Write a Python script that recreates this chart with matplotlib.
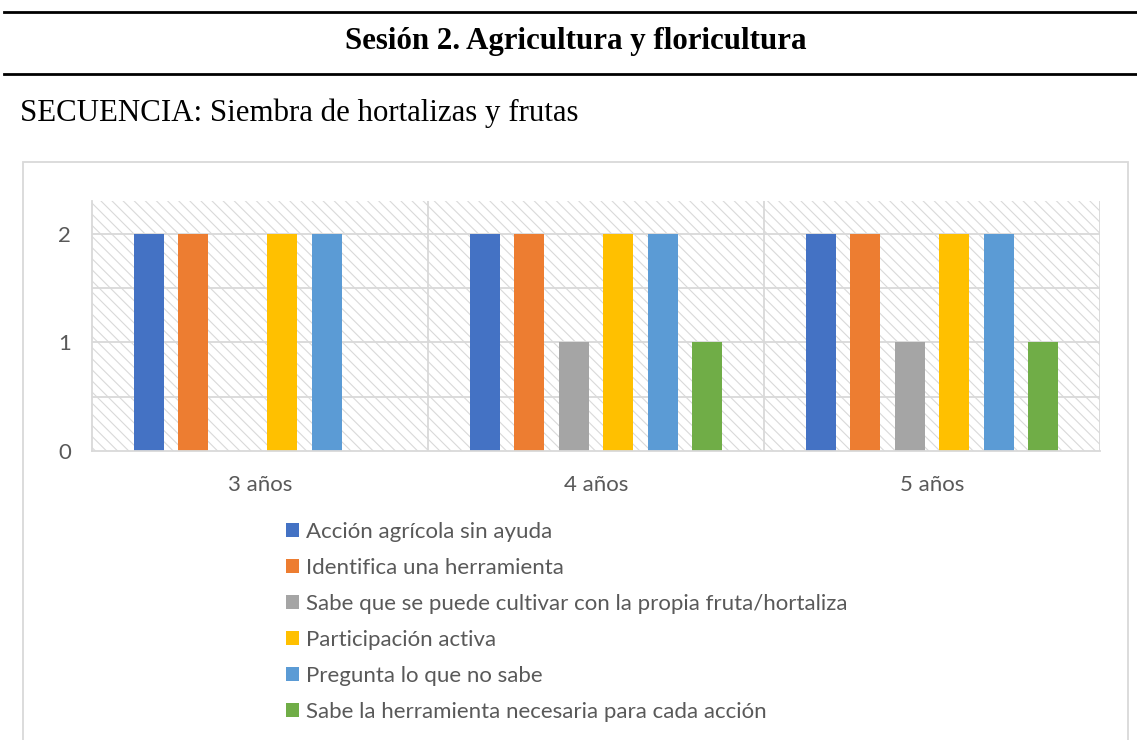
import numpy as np
import matplotlib.pyplot as plt
from matplotlib.patches import Rectangle

categorias = ["3 años", "4 años", "5 años"]
series = [
    "Acción agrícola sin ayuda",
    "Identifica una herramienta",
    "Sabe que se puede cultivar con la propia fruta/hortaliza",
    "Participación activa",
    "Pregunta lo que no sabe",
    "Sabe la herramienta necesaria para cada acción",
]
colores = ["#4472c4", "#ed7d31", "#a5a5a5", "#ffc000", "#5b9bd5", "#70ad47"]
accion = [2, 2, 2]
identifica = [2, 2, 2]
sabe_cultivar = [0, 1, 1]
participacion = [2, 2, 2]
pregunta = [2, 2, 2]
sabe_herramienta = [0, 1, 1]
valores = [accion, identifica, sabe_cultivar, participacion, pregunta, sabe_herramienta]

W, H = 1137, 740
plt.rcParams["hatch.linewidth"] = 0.8
fig = plt.figure(figsize=(W / 100, H / 100), dpi=100)

serif = "Liberation Serif"
sans = ["Lato", "DejaVu Sans"]
gris_txt = "#595959"

# cabecera del documento
fig.add_artist(plt.Line2D([4 / W, 1], [1 - 12 / H] * 2, color="black", lw=2))
fig.add_artist(plt.Line2D([4 / W, 1], [1 - 74 / H] * 2, color="black", lw=2))
fig.text(576 / W, 1 - 42 / H, "Sesión 2. Agricultura y floricultura", ha="center", va="center",
         family=serif, fontweight="bold", fontsize=22.2)
fig.text(20 / W, 1 - 113 / H, "SECUENCIA: Siembra de hortalizas y frutas", ha="left", va="center",
         family=serif, fontsize=22.2)

# marco del gráfico
fig.add_artist(Rectangle((23 / W, -0.01), (1128 - 23) / W, 1 - 162 / H + 0.01,
                         transform=fig.transFigure, fill=False, edgecolor="#d9d9d9", lw=1.3))

ax = fig.add_axes([92 / W, 1 - 451 / H, (1100 - 92) / W, (451 - 201) / H])
ax.set_xlim(0, 3)
ax.set_ylim(0, 2.3)
ax.add_patch(Rectangle((0, 0), 3, 2.3, facecolor="white", edgecolor="#d9d9d9", lw=0,
                       hatch="\\\\\\", zorder=0))
for y in np.arange(0.5, 2.3, 0.5):
    ax.axhline(y, color="#d9d9d9", lw=1.3, zorder=1)
for x in [1, 2, 3]:
    ax.axvline(x, color="#d9d9d9", lw=1.3, zorder=1)
for s in ["top", "right"]:
    ax.spines[s].set_visible(False)
for s in ["left", "bottom"]:
    ax.spines[s].set_color("#d9d9d9")
    ax.spines[s].set_linewidth(1.3)

ancho = 0.0894
paso = 0.1326
centros = np.arange(3) + 0.5
for i, (nombre, vals, c) in enumerate(zip(series, valores, colores)):
    ax.bar(centros + (i - 2.5) * paso, vals, width=ancho, color=c, label=nombre, zorder=2)

ax.set_yticks([0, 1, 2])
ax.set_xticks(centros)
ax.set_xticklabels(categorias)
ax.tick_params(length=0, labelsize=16, labelcolor=gris_txt)
ax.tick_params(axis="x", pad=17)
ax.tick_params(axis="y", pad=15)
for t in ax.get_xticklabels() + ax.get_yticklabels():
    t.set_family(sans)

leg = fig.legend(loc="upper left", bbox_to_anchor=(277 / W, 1 - 513 / H), ncol=1, frameon=False,
                 prop={"family": sans, "size": 16}, labelcolor=gris_txt, handlelength=0.6,
                 handleheight=0.6, handletextpad=0.3, labelspacing=0.72, borderaxespad=0)

fig.savefig("out.png", dpi=100)
